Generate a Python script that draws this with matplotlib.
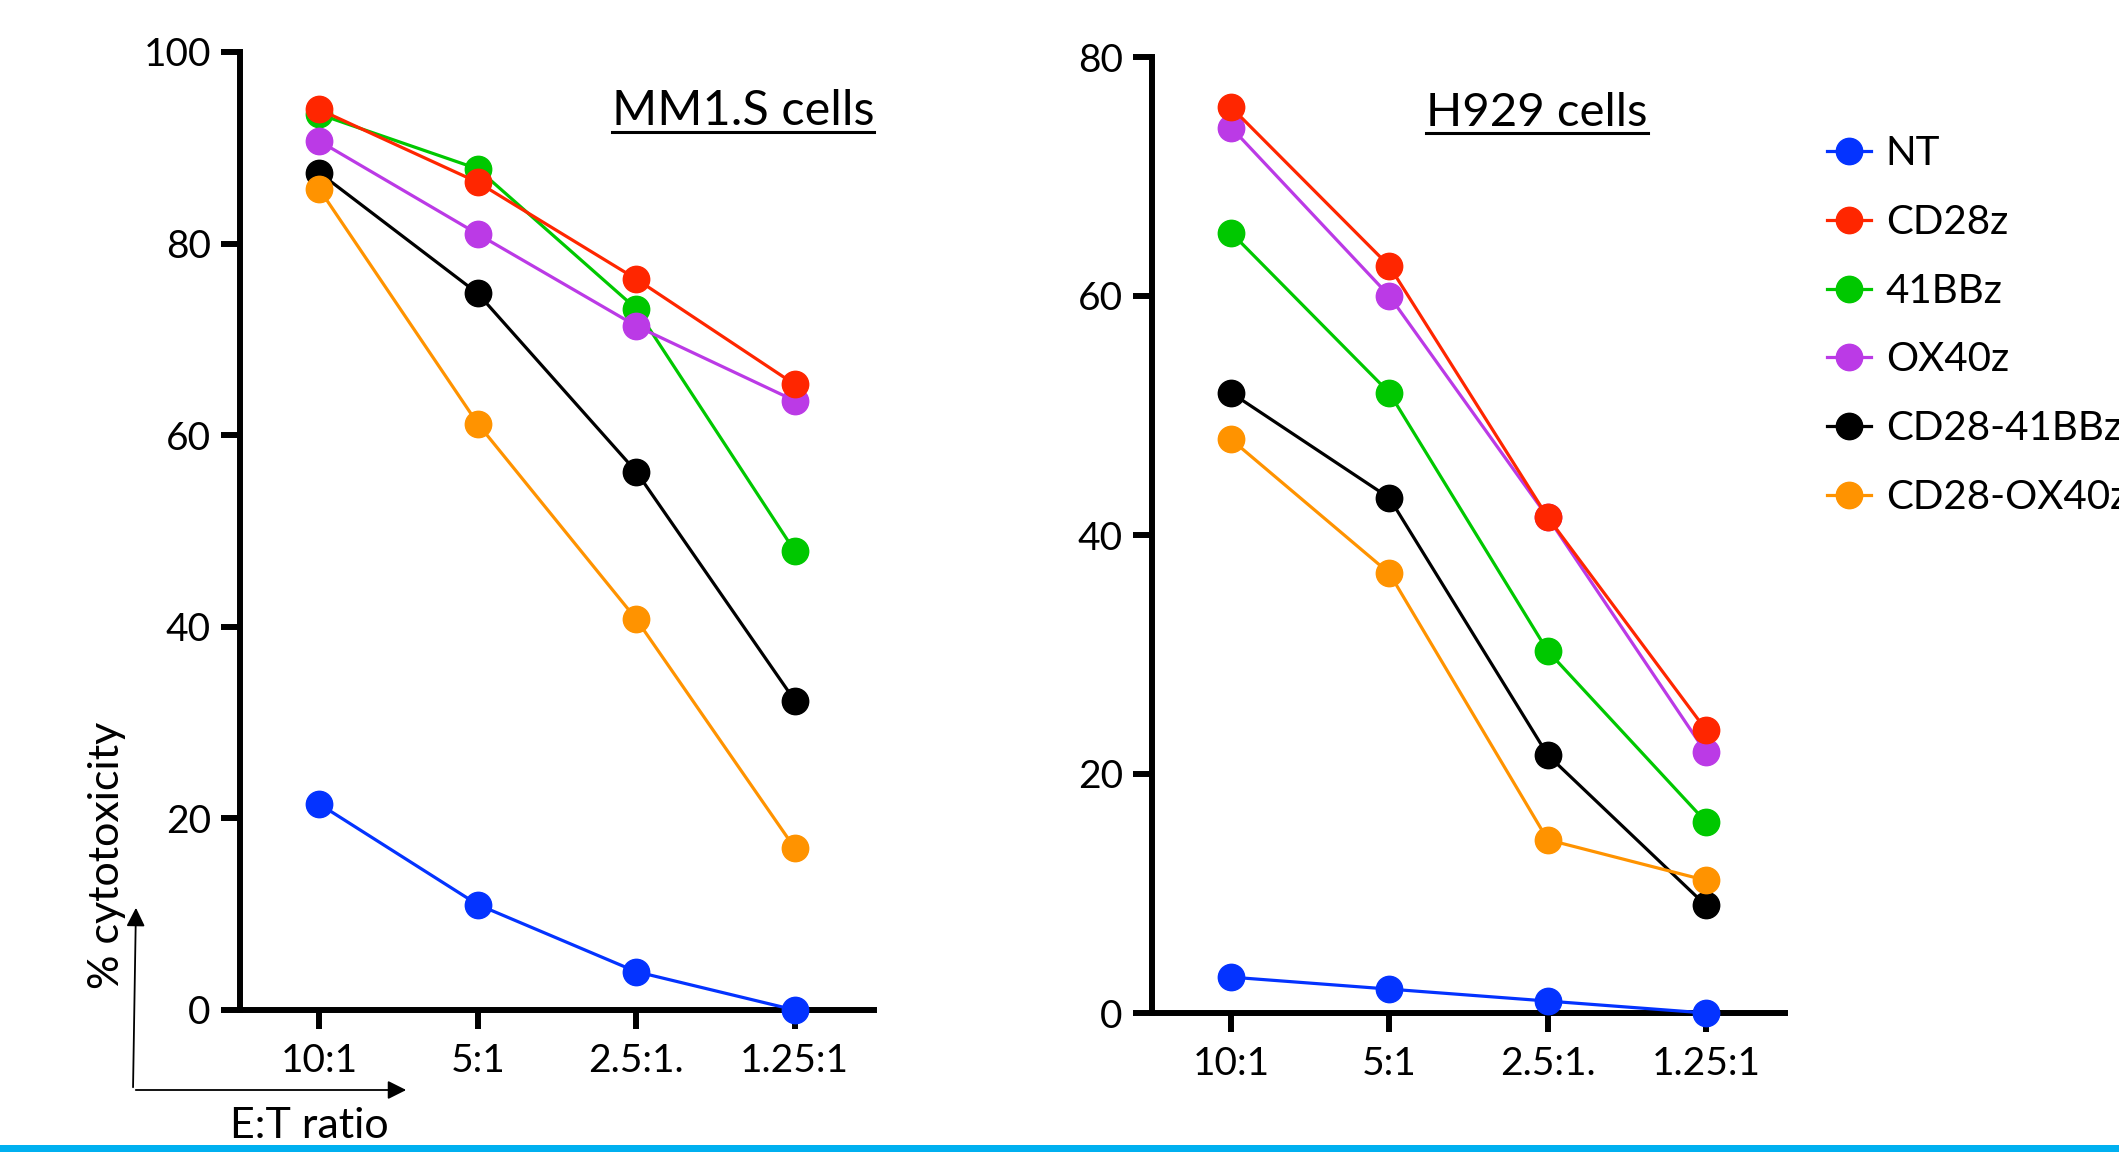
import numpy as np
import matplotlib
matplotlib.use('Agg')
import matplotlib.pyplot as plt
from matplotlib.lines import Line2D
from matplotlib.patches import FancyArrowPatch, Rectangle

plt.rcParams['font.family'] = ['Lato', 'DejaVu Sans']

# данные
ratios = ['10:1', '5:1', '2.5:1.', '1.25:1']
groups = ['NT', 'CD28z', '41BBz', 'OX40z', 'CD28-41BBz', 'CD28-OX40z']
colors = ['#0433FF', '#FF2600', '#00C800', '#BB3AE6', '#000000', '#FF9300']

mm1s_nt = [21.5, 11.0, 4.0, 0.0]
mm1s_cd28 = [94.0, 86.4, 76.3, 65.3]
mm1s_41bb = [93.5, 87.8, 73.2, 47.9]
mm1s_ox40 = [90.7, 81.0, 71.4, 63.6]
mm1s_cd28_41bb = [87.4, 74.8, 56.2, 32.3]
mm1s_cd28_ox40 = [85.7, 61.2, 40.8, 16.9]

h929_nt = [3.0, 2.0, 1.0, 0.0]
h929_cd28 = [75.8, 62.5, 41.5, 23.7]
h929_41bb = [65.3, 51.9, 30.3, 16.0]
h929_ox40 = [74.1, 60.0, 41.5, 21.8]
h929_cd28_41bb = [51.9, 43.1, 21.6, 9.0]
h929_cd28_ox40 = [48.0, 36.8, 14.5, 11.1]

mm1s = [mm1s_nt, mm1s_cd28, mm1s_41bb, mm1s_ox40, mm1s_cd28_41bb, mm1s_cd28_ox40]
h929 = [h929_nt, h929_cd28, h929_41bb, h929_ox40, h929_cd28_41bb, h929_cd28_ox40]

W, H = 2119, 1152
fig = plt.figure(figsize=(W / 100, H / 100), dpi=100)


def fx(x):
    return x / W


def fy(y):
    return 1 - y / H


def panel(rect, data, ymax):
    ax = fig.add_axes(rect)
    x = np.arange(len(ratios))
    lines = []
    for i, (vals, c, g) in enumerate(zip(data, colors, groups)):
        z = 5 if g == 'CD28z' else 3 + i * 0.1
        ln, = ax.plot(x, vals, '-o', color=c, lw=2.3, ms=19, label=g,
                      clip_on=False, zorder=z)
        lines.append(ln)
    ax.set_xlim(-0.5, 3.5)
    ax.set_ylim(0, ymax)
    ax.set_yticks(np.arange(0, ymax + 1, 20))
    ax.set_xticks(x)
    ax.set_xticklabels(ratios)
    for s in ['top', 'right']:
        ax.spines[s].set_visible(False)
    for s in ['left', 'bottom']:
        ax.spines[s].set_linewidth(4.3)
    ax.tick_params(axis='both', length=14, width=4.3, labelsize=28)
    ax.tick_params(axis='x', pad=10)
    ax.tick_params(axis='y', pad=7)
    return ax, lines


ax1, _ = panel([fx(240), fy(1010), fx(874) - fx(240), fy(52) - fy(1010)], mm1s, 100)
ax2, lines = panel([fx(1152), fy(1013), fx(1785) - fx(1152), fy(57) - fy(1013)], h929, 80)

# заголовки с подчёркиванием
t1 = fig.text(fx(874), fy(125), 'MM1.S cells', ha='right', va='baseline', fontsize=35)
t2 = fig.text(fx(1537), fy(126), 'H929 cells', ha='center', va='baseline', fontsize=34)

fig.canvas.draw()
r = fig.canvas.get_renderer()
for t, base in [(t1, 125), (t2, 126)]:
    bb = t.get_window_extent(renderer=r).transformed(fig.transFigure.inverted())
    fig.add_artist(Line2D([bb.x0, bb.x1], [fy(base + 7)] * 2, color='black', lw=2.2,
                          transform=fig.transFigure))

# подпись оси и стрелки
fig.text(fx(107), fy(855), '% cytotoxicity', rotation=90, ha='center', va='center', fontsize=31)
fig.text(fx(309), fy(1138), 'E:T ratio', ha='center', va='baseline', fontsize=31)
fig.add_artist(FancyArrowPatch((fx(133), fy(1090)), (fx(136), fy(905)),
                               transform=fig.transFigure, arrowstyle='-|>',
                               mutation_scale=28, lw=1.3, color='black'))
fig.add_artist(FancyArrowPatch((fx(133), fy(1090)), (fx(409), fy(1090)),
                               transform=fig.transFigure, arrowstyle='-|>',
                               mutation_scale=28, lw=1.3, color='black'))

# легенда
fig.legend(handles=lines, loc='upper left', bbox_to_anchor=(fx(1827), fy(135)),
           frameon=False, fontsize=29, borderpad=0, borderaxespad=0,
           handlelength=1.09, handletextpad=0.37, labelspacing=0.79, numpoints=1)

# голубая полоса внизу
fig.add_artist(Rectangle((0, 0), 1, fy(1145), transform=fig.transFigure,
                         color='#00B0F0', lw=0))

fig.savefig('out.png', dpi=100)
